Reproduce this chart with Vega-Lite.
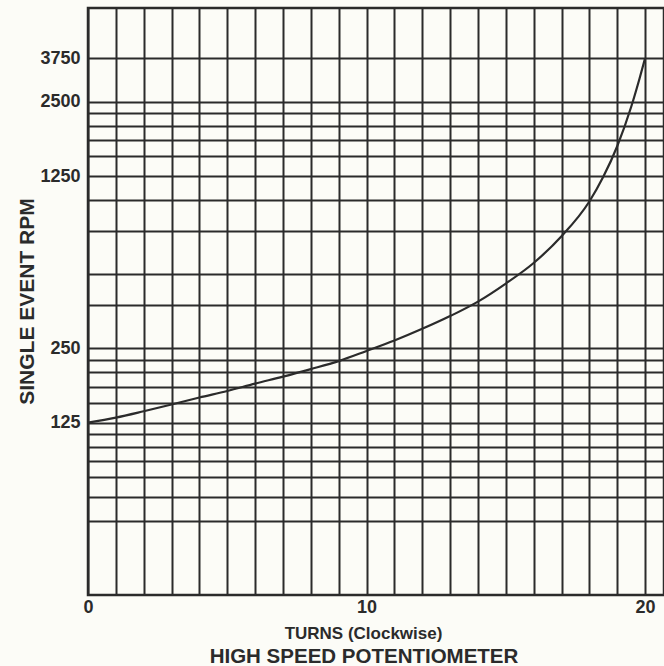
{
  "$schema": "https://vega.github.io/schema/vega-lite/v6.json",
  "width": 576,
  "height": 587,
  "autosize": {"type": "none"},
  "padding": {"left": 88, "top": 8, "right": 0, "bottom": 71},
  "background": "#fcfcf7",
  "view": {"stroke": "#2b2b2b", "strokeWidth": 2.5},
  "title": {
    "text": "HIGH SPEED POTENTIOMETER",
    "orient": "bottom",
    "anchor": "middle",
    "frame": "group",
    "dx": -12,
    "offset": 6,
    "font": "Liberation Sans",
    "fontSize": 20.5,
    "fontWeight": "bold",
    "color": "#2b2b2b"
  },
  "data": {
    "values": [
      {"turns": 0, "rpm": 125},
      {"turns": 1, "rpm": 131},
      {"turns": 2, "rpm": 139},
      {"turns": 3, "rpm": 148},
      {"turns": 4, "rpm": 158},
      {"turns": 5, "rpm": 168},
      {"turns": 6, "rpm": 180},
      {"turns": 7, "rpm": 192},
      {"turns": 8, "rpm": 206},
      {"turns": 9, "rpm": 222},
      {"turns": 10, "rpm": 244},
      {"turns": 11, "rpm": 269},
      {"turns": 12, "rpm": 300},
      {"turns": 13, "rpm": 338},
      {"turns": 14, "rpm": 387},
      {"turns": 15, "rpm": 458},
      {"turns": 16, "rpm": 555},
      {"turns": 17, "rpm": 712},
      {"turns": 18, "rpm": 985},
      {"turns": 18.5, "rpm": 1240},
      {"turns": 19, "rpm": 1650},
      {"turns": 19.5, "rpm": 2380},
      {"turns": 19.8, "rpm": 3100},
      {"turns": 20, "rpm": 3750}
    ]
  },
  "mark": {"type": "line", "interpolate": "monotone", "color": "#2b2b2b", "strokeWidth": 2.2},
  "encoding": {
    "x": {
      "field": "turns",
      "type": "quantitative",
      "scale": {"domain": [0, 20.68], "nice": false, "zero": false},
      "axis": {
        "values": [0, 1, 2, 3, 4, 5, 6, 7, 8, 9, 10, 11, 12, 13, 14, 15, 16, 17, 18, 19, 20],
        "labelExpr": "datum.value % 10 == 0 ? datum.label : ''",
        "ticks": false,
        "domain": false,
        "grid": true,
        "gridColor": "#2b2b2b",
        "gridWidth": 2,
        "gridOpacity": 1,
        "labelPadding": 3,
        "labelFont": "Liberation Sans",
        "labelFontSize": 18,
        "labelFontWeight": "bold",
        "labelColor": "#2b2b2b",
        "labelFlush": false,
        "title": "TURNS (Clockwise)",
        "titleFont": "Liberation Sans",
        "titleFontSize": 17,
        "titleFontWeight": "bold",
        "titleColor": "#2b2b2b",
        "titleAnchor": "start",
        "titleAlign": "center",
        "titleBaseline": "alphabetic",
        "titleX": 275,
        "titleY": 43
      }
    },
    "y": {
      "field": "rpm",
      "type": "quantitative",
      "scale": {"type": "log", "domain": [25, 6000], "nice": false},
      "axis": {
        "values": [50, 62.5, 75, 87.5, 100, 112.5, 125, 150, 175, 200, 225, 250, 375, 500, 750, 1000, 1250, 1500, 1750, 2000, 2250, 2500, 3750],
        "format": "d",
        "labelExpr": "indexof([125, 250, 1250, 2500, 3750], datum.value) >= 0 ? datum.label : ''",
        "ticks": false,
        "domain": false,
        "grid": true,
        "gridColor": "#2b2b2b",
        "gridWidth": 2,
        "gridOpacity": 1,
        "labelPadding": 8,
        "labelFont": "Liberation Sans",
        "labelFontSize": 18,
        "labelFontWeight": "bold",
        "labelColor": "#2b2b2b",
        "title": "SINGLE EVENT RPM",
        "titleFont": "Liberation Sans",
        "titleFontSize": 21,
        "titleFontWeight": "bold",
        "titleColor": "#2b2b2b",
        "titleAngle": 270,
        "titleAlign": "center",
        "titleBaseline": "alphabetic",
        "titleX": -55,
        "titleY": 293
      }
    }
  }
}
